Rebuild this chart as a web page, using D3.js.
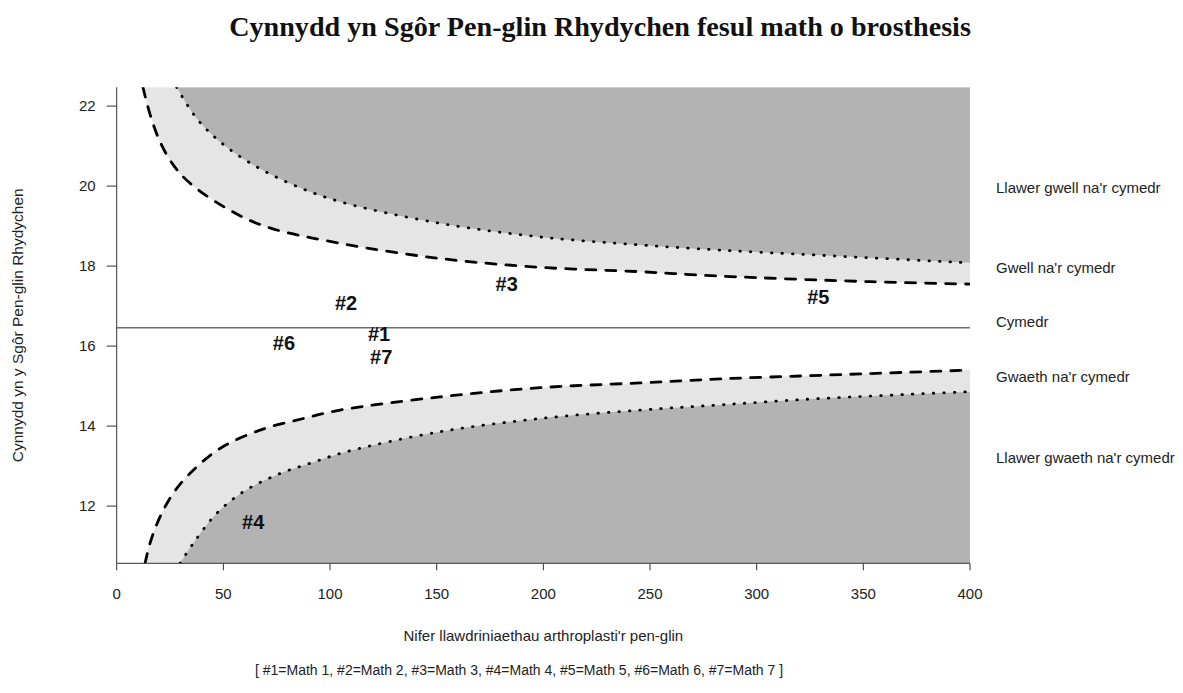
<!DOCTYPE html>
<html>
<head>
<meta charset="utf-8">
<script src="https://cdn.jsdelivr.net/npm/d3@7"></script>
<style>
  body { margin: 0; background: #fff; }
  text { font-family: "Liberation Sans", Arial, sans-serif; }
</style>
</head>
<body>
<svg id="chart" width="1183" height="693"></svg>
<script>
// values
var meanScore = 16.46;

// upper 2sd (dashed) and 3sd (dotted) limits
var upperDashN   = [12.3, 15.7, 20.3, 26.5, 34.4, 51.6, 70.3, 104.7, 151.6, 198.4, 245.3, 282.8, 353, 400];
var upperDashVal = [22.47, 21.78, 21.11, 20.53, 20.07, 19.44, 18.98, 18.57, 18.19, 17.97, 17.86, 17.75, 17.61, 17.55];
var upperDotN    = [28.1, 37.5, 48.4, 64, 82.8, 104.7, 151.6, 198.4, 245.3, 282.8, 330, 400];
var upperDotVal  = [22.47, 21.69, 21.11, 20.53, 20.03, 19.61, 19.07, 18.73, 18.53, 18.40, 18.27, 18.08];

// lower limits
var lowerDashN   = [13.3, 15.6, 20.3, 26.5, 34.4, 48.4, 67.2, 87.5, 104.7, 151.6, 198.4, 245.3, 282.8, 330, 400];
var lowerDashVal = [10.57, 11.07, 11.73, 12.32, 12.82, 13.44, 13.90, 14.19, 14.40, 14.73, 14.96, 15.08, 15.18, 15.27, 15.40];
var lowerDotN    = [29.7, 35.9, 46.9, 59.4, 75, 90.6, 107.8, 151.6, 198.4, 245.3, 282.8, 330, 400];
var lowerDotVal  = [10.57, 11.07, 11.82, 12.36, 12.78, 13.07, 13.36, 13.86, 14.19, 14.40, 14.53, 14.69, 14.86];

// prosthesis types
var typeLabels = ["#1", "#2", "#3", "#4", "#5", "#6", "#7"];
var typeN      = [123, 107.5, 182.8, 64, 328.9, 78.4, 124];
var typeScore  = [16.32, 17.08, 17.55, 11.61, 17.23, 16.09, 15.73];

var xTicks = [0, 50, 100, 150, 200, 250, 300, 350, 400];
var yTicks = [12, 14, 16, 18, 20, 22];

var zoneLabels = ["Llawer gwell na'r cymedr", "Gwell na'r cymedr", "Cymedr", "Gwaeth na'r cymedr", "Llawer gwaeth na'r cymedr"];
var zoneScore  = [19.96, 17.97, 16.61, 15.24, 13.22];

(function() {
var svg = d3.select("#chart");
var pLeft = 116.7, pRight = 970, pTop = 87.3, pBottom = 563.3;

var x = d3.scaleLinear().domain([0, 400]).range([pLeft, pRight]);
var y = d3.scaleLinear().domain([10.57, 22.47]).range([pBottom, pTop]);
var yTop = y.domain()[1], yBot = y.domain()[0];

function pts(ns, vs) { return ns.map(function(n, i) { return [n, vs[i]]; }); }

svg.append("clipPath").attr("id", "plotclip")
  .append("rect").attr("x", pLeft).attr("y", pTop).attr("width", pRight - pLeft).attr("height", pBottom - pTop);

var g = svg.append("g").attr("clip-path", "url(#plotclip)");

var smooth = d3.curveCatmullRom.alpha(0.5);
var areaUp = d3.area().x(function(d){ return x(d[0]); }).y0(function(d){ return y(d[1]); }).y1(y(yTop)).curve(smooth);
var areaDn = d3.area().x(function(d){ return x(d[0]); }).y0(function(d){ return y(d[1]); }).y1(y(yBot)).curve(smooth);
var line = d3.line().x(function(d){ return x(d[0]); }).y(function(d){ return y(d[1]); }).curve(smooth);

g.append("path").attr("d", areaUp(pts(upperDashN, upperDashVal))).attr("fill", "#e5e5e5");
g.append("path").attr("d", areaUp(pts(upperDotN, upperDotVal))).attr("fill", "#b3b3b3");
g.append("path").attr("d", areaDn(pts(lowerDashN, lowerDashVal))).attr("fill", "#e5e5e5");
g.append("path").attr("d", areaDn(pts(lowerDotN, lowerDotVal))).attr("fill", "#b3b3b3");

[[upperDashN, upperDashVal, "10,10"], [lowerDashN, lowerDashVal, "10,10"],
 [upperDotN, upperDotVal, "0.5,10"], [lowerDotN, lowerDotVal, "0.5,10"]].forEach(function(s) {
  g.append("path").attr("d", line(pts(s[0], s[1])))
    .attr("fill", "none").attr("stroke", "#000").attr("stroke-width", 2.8)
    .attr("stroke-linecap", "round").attr("stroke-dasharray", s[2]);
});

// mean line
svg.append("line").attr("x1", x(0)).attr("x2", x(400)).attr("y1", y(meanScore)).attr("y2", y(meanScore))
  .attr("stroke", "#6e6e6e").attr("stroke-width", 1.5);

// axes
svg.append("line").attr("x1", pLeft).attr("x2", pLeft).attr("y1", pTop).attr("y2", pBottom).attr("stroke", "#333");
svg.append("line").attr("x1", pLeft).attr("x2", pRight).attr("y1", pBottom).attr("y2", pBottom).attr("stroke", "#333");

yTicks.forEach(function(t) {
  svg.append("line").attr("x1", pLeft - 10).attr("x2", pLeft).attr("y1", y(t)).attr("y2", y(t)).attr("stroke", "#333");
  svg.append("text").attr("x", pLeft - 21).attr("y", y(t)).attr("dy", "0.35em")
    .attr("text-anchor", "end").attr("font-size", 15).attr("fill", "#222").text(t);
});
xTicks.forEach(function(t) {
  svg.append("line").attr("x1", x(t)).attr("x2", x(t)).attr("y1", pBottom).attr("y2", pBottom + 7).attr("stroke", "#333");
  svg.append("text").attr("x", x(t)).attr("y", pBottom + 30).attr("dy", "0.35em")
    .attr("text-anchor", "middle").attr("font-size", 15).attr("fill", "#222").text(t);
});

// type labels
typeLabels.forEach(function(l, i) {
  svg.append("text").attr("x", x(typeN[i])).attr("y", y(typeScore[i])).attr("dy", "0.36em")
    .attr("text-anchor", "middle").attr("font-size", 20).attr("font-weight", "bold").attr("fill", "#111").text(l);
});

// zone labels
zoneLabels.forEach(function(l, i) {
  svg.append("text").attr("x", 996).attr("y", y(zoneScore[i])).attr("dy", "0.35em")
    .attr("font-size", 15).attr("fill", "#222").text(l);
});

// axis titles
svg.append("text").attr("x", (pLeft + pRight) / 2).attr("y", 636).attr("dy", "0.35em")
  .attr("text-anchor", "middle").attr("font-size", 15).attr("fill", "#222")
  .text("Nifer llawdriniaethau arthroplasti'r pen-glin");
svg.append("text").attr("transform", "translate(18," + ((pTop + pBottom) / 2) + ") rotate(-90)").attr("dy", "0.35em")
  .attr("text-anchor", "middle").attr("font-size", 15.5).attr("fill", "#222")
  .text("Cynnydd yn y Sgôr Pen-glin Rhydychen");
svg.append("text").attr("x", 255).attr("y", 670).attr("dy", "0.35em")
  .attr("font-size", 14).attr("fill", "#222")
  .text("[ #1=Math 1, #2=Math 2, #3=Math 3, #4=Math 4, #5=Math 5, #6=Math 6, #7=Math 7 ]");

// title, sized to the reference width
var title = svg.append("text").attr("x", 600).attr("y", 36).attr("text-anchor", "middle")
  .style("font-family", "'Liberation Serif', 'DejaVu Serif', serif").attr("font-weight", "bold")
  .attr("font-size", 22).attr("fill", "#111")
  .text("Cynnydd yn Sgôr Pen-glin Rhydychen fesul math o brosthesis");
var len = title.node().getComputedTextLength();
title.attr("font-size", 22 * 742 / len);
})();
</script>
</body>
</html>
